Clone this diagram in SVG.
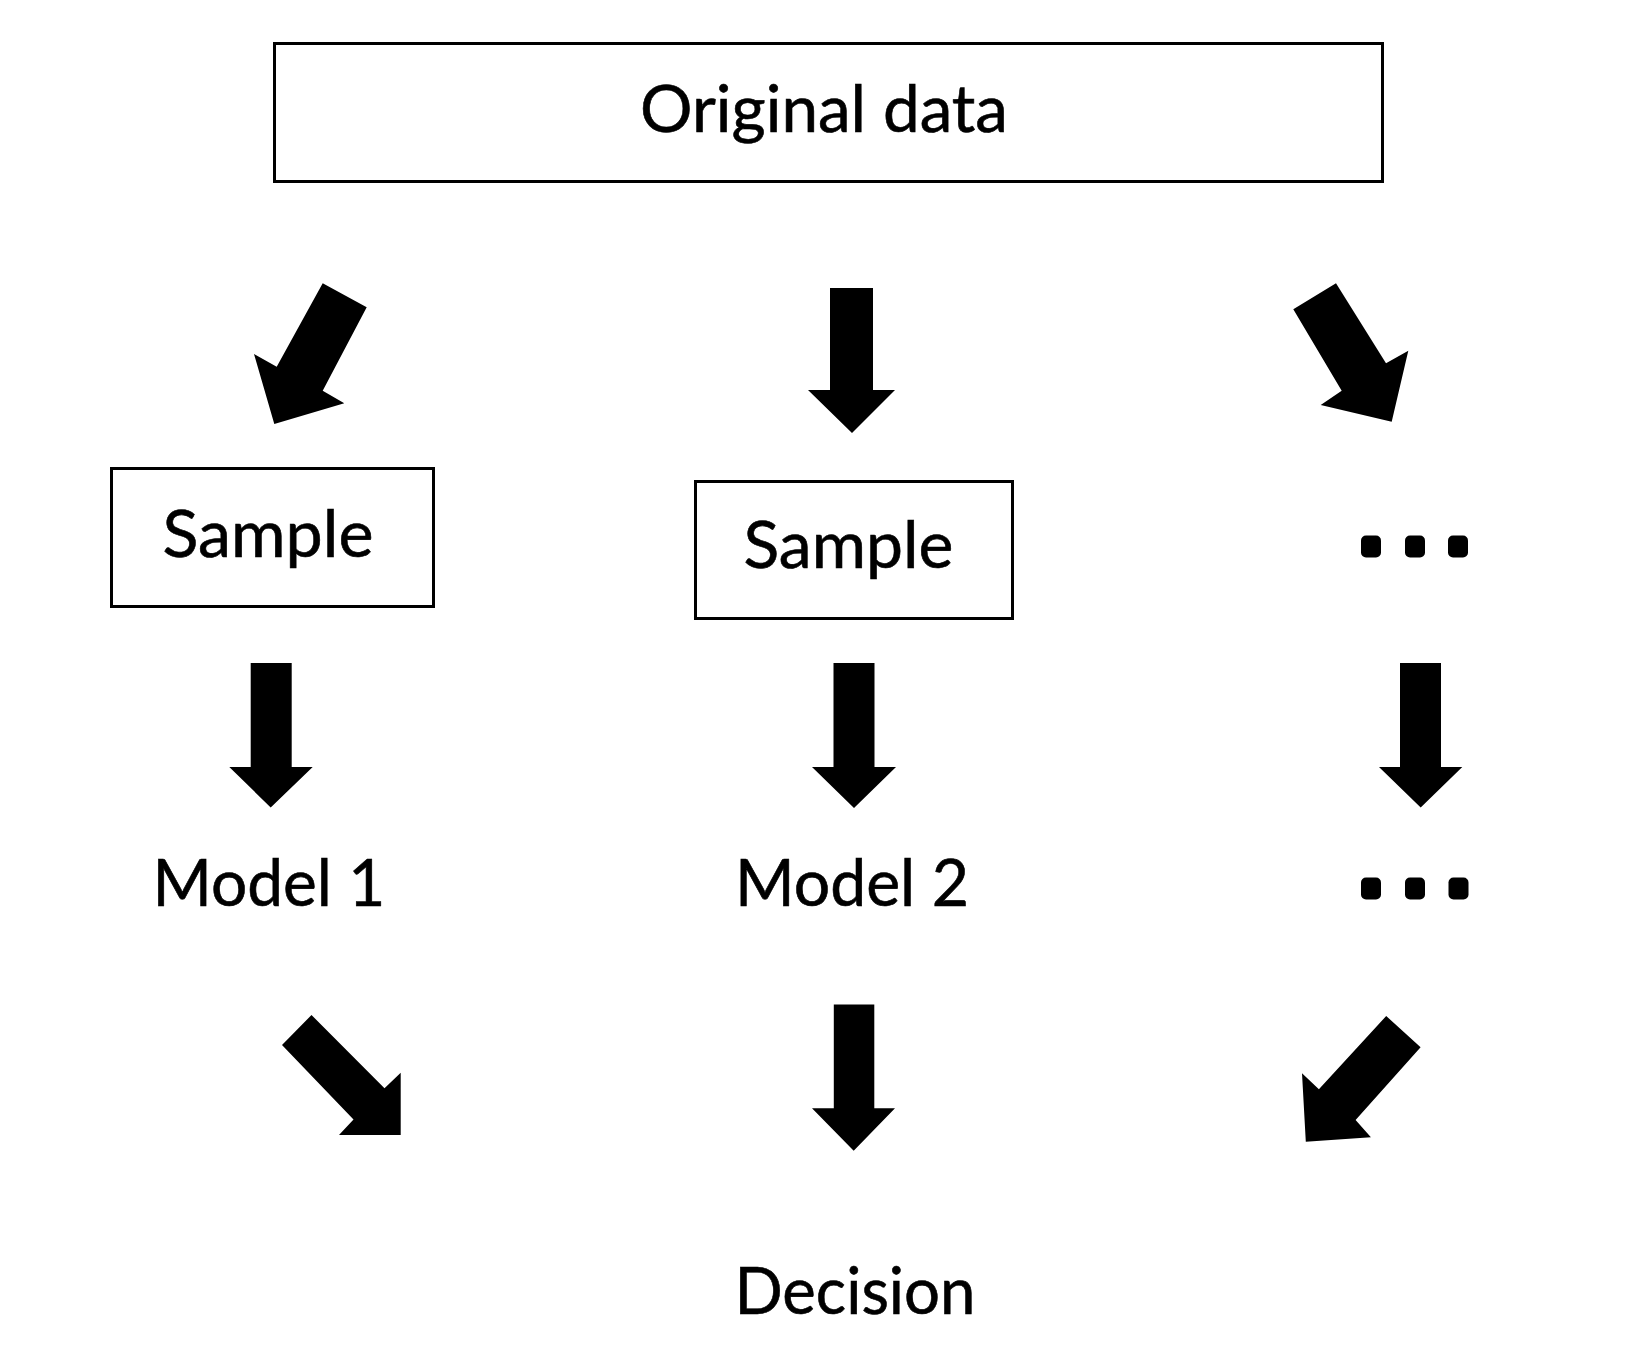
<svg xmlns="http://www.w3.org/2000/svg" width="1633" height="1367" viewBox="0 0 1633 1367">
<style>
.box{fill:#fff;stroke:#000;stroke-width:3}
.lbl{font-family:Lato,"Open Sans","Liberation Sans",sans-serif;font-size:65px;fill:#000;stroke:#000;stroke-width:0.6;text-anchor:middle}
.arr{fill:#000;stroke:none}
.dot{fill:#000}
</style>
<rect width="1633" height="1367" fill="#fff"/>
<g id="original">
<rect class="box" x="274.5" y="43.5" width="1108" height="138"/>
<text class="lbl" x="824" y="132" textLength="368" lengthAdjust="spacingAndGlyphs">Original data</text>
</g>
<g id="sample1">
<rect class="box" x="111.5" y="468.5" width="322" height="138"/>
<text class="lbl" x="268" y="557" textLength="211" lengthAdjust="spacingAndGlyphs">Sample</text>
</g>
<g id="sample2">
<rect class="box" x="695.5" y="481.5" width="317" height="137"/>
<text class="lbl" x="848.5" y="568" textLength="210" lengthAdjust="spacingAndGlyphs">Sample</text>
</g>
<g id="dots1">
<rect class="dot" x="1361" y="535.5" width="20" height="22" rx="5"/>
<rect class="dot" x="1405" y="535.5" width="20" height="22" rx="5"/>
<rect class="dot" x="1448" y="535.5" width="20" height="22" rx="5"/>
</g>
<g id="model1">
<text class="lbl" x="269" y="906" textLength="233" lengthAdjust="spacingAndGlyphs">Model 1</text>
</g>
<g id="model2">
<text class="lbl" x="852" y="906" textLength="234" lengthAdjust="spacingAndGlyphs">Model 2</text>
</g>
<g id="dots2">
<rect class="dot" x="1361" y="877.5" width="20" height="22" rx="5"/>
<rect class="dot" x="1405" y="877.5" width="20" height="22" rx="5"/>
<rect class="dot" x="1448.5" y="877.5" width="20" height="22" rx="5"/>
</g>
<g id="decision">
<text class="lbl" x="855" y="1314" textLength="241" lengthAdjust="spacingAndGlyphs">Decision</text>
</g>
<g id="connectors">
<polygon class="arr" points="322.7,283.3 366.7,307.3 322.7,390.7 344.3,403.3 274.3,424 254,354 276.7,366.7"/>
<polygon class="arr" points="830,288 873,288 873,390 895,390 852,433 808,390 830,390"/>
<polygon class="arr" points="1293.3,309.3 1336,283.3 1386,363.3 1408.3,350.7 1391.7,421.7 1320.7,405 1341.7,390.7"/>
<polygon class="arr" points="250.7,663 291.7,663 291.7,767 312.7,767 270.7,807.5 229.3,767 250.7,767"/>
<polygon class="arr" points="833.5,663 874.5,663 874.5,767 896,767 854,808 812,767 833.5,767"/>
<polygon class="arr" points="1400,663 1441,663 1441,767 1462.3,767 1420.7,807.5 1379,767 1400,767"/>
<polygon class="arr" points="311.5,1015 384.5,1088.3 400.7,1072.7 400.7,1135 339,1135 353.5,1119.5 282,1045"/>
<polygon class="arr" points="833.8,1004.5 874.3,1004.5 874.3,1108.3 895,1108.3 853.7,1150.7 812,1108.3 833.8,1108.3"/>
<polygon class="arr" points="1386.2,1016 1420.6,1047.3 1355.6,1120 1370.9,1137.3 1305.8,1141.7 1302,1073.3 1318.9,1089.3"/>
</g>
</svg>
